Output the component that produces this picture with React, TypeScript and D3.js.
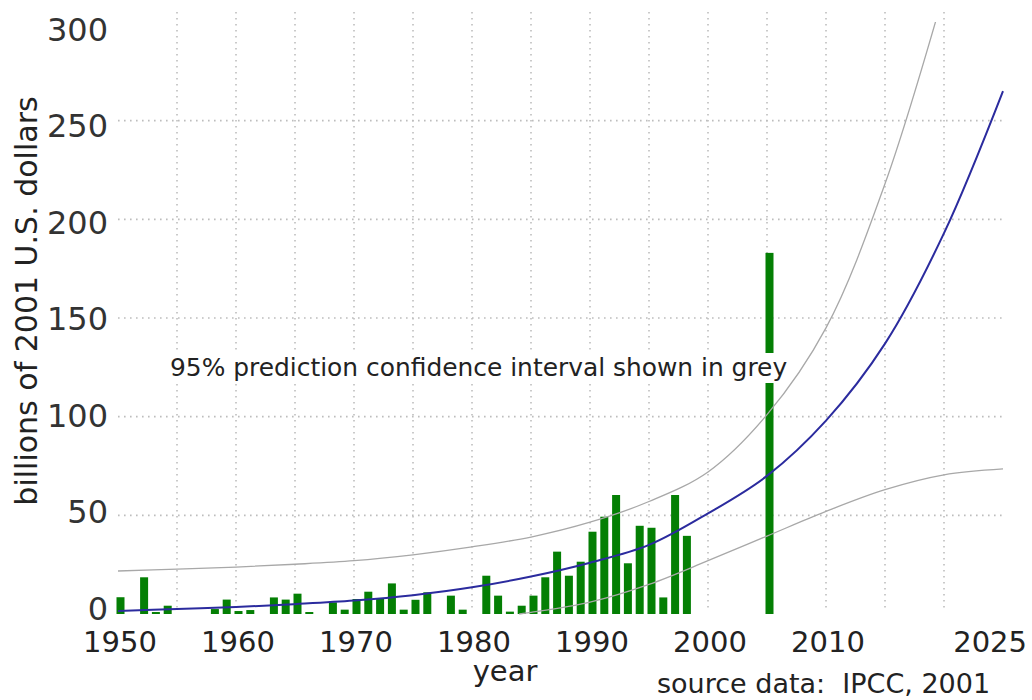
import React from 'react';
import * as d3 from 'd3';

// yearly losses, billions of 2001 US dollars
const barYears = [1950, 1952, 1953, 1954, 1958, 1959, 1960, 1961, 1963, 1964, 1965, 1966,
    1968, 1969, 1970, 1971, 1972, 1973, 1974, 1975, 1976, 1978, 1979, 1981, 1982, 1983,
    1984, 1985, 1986, 1987, 1988, 1989, 1990, 1991, 1992, 1993, 1994, 1995, 1996, 1997,
    1998, 2005];
const barValues = [8.5, 18.6, 1, 4.2, 2.5, 7.3, 1.5, 2, 8.4, 7.3, 10.3, 1,
    5.9, 2.2, 7.6, 11.3, 8, 15.5, 2.2, 7.2, 11, 9.3, 2.2, 19.4, 9.3, 1.2,
    4.2, 9.3, 18.6, 31.6, 19.4, 26.5, 41.7, 49.3, 60.3, 25.7, 44.7, 43.7, 8.4, 60.3,
    39.6, 183];

// fitted trend (blue)
const fitYears = [1950, 1955, 1960, 1965, 1970, 1975, 1980, 1985, 1990, 1995, 2000, 2005, 2010, 2015, 2020, 2025];
const fitValues = [1.5, 2.5, 3.5, 5, 6.8, 9.5, 13.5, 19, 26, 35, 51, 70, 98, 137, 193, 265];

// 95% prediction interval (grey)
const upperYears = [1950, 1955, 1960, 1965, 1970, 1975, 1980, 1985, 1990, 1995, 2000, 2005, 2010, 2015, 2020];
const upperValues = [21.8, 22.7, 23.8, 25.2, 27, 30, 34, 39, 46.5, 57, 72, 101, 145, 218, 315];
const lowerYears = [1984, 1985, 1990, 1995, 2000, 2005, 2010, 2015, 2020, 2025];
const lowerValues = [0, 0.8, 6, 15, 27, 39.5, 52, 63, 70.5, 73.5];

const xTicks = [1950, 1960, 1970, 1980, 1990, 2000, 2010, 2025];
const yTicks = [0, 50, 100, 150, 200, 250, 300];
const gridYears = [1955, 1960, 1965, 1970, 1975, 1980, 1985, 1990, 1995, 2000, 2005, 2010, 2015, 2020];
const gridValues = [50, 100, 150, 200, 250];

const font = '"DejaVu Sans", Verdana, sans-serif';

export default function App() {
    const width = 1032;
    const height = 700;

    const x = d3.scaleLinear().domain([1950, 2025]).range([118, 1003]);
    const y = d3.scaleLinear().domain([0, 300]).range([614, 22]);
    // tick labels sit on a slightly tighter spacing than the grid
    const yLab = d3.scaleLinear().domain([0, 300]).range([608, 29]);

    const line = d3.line<number[]>()
        .x(d => x(d[0]))
        .y(d => y(d[1]))
        .curve(d3.curveCatmullRom.alpha(0.5));

    const fit = line(fitYears.map((t, i) => [t, fitValues[i]]));
    const upper = line(upperYears.map((t, i) => [t, upperValues[i]]));
    const lower = line(lowerYears.map((t, i) => [t, lowerValues[i]]));

    return (
        <svg width={width} height={height}
            style={{ position: 'absolute', left: 0, top: 0, background: '#fff' }}>
            <defs>
                <clipPath id="plot">
                    <rect x={100} y={y(300)} width={920} height={y(0) - y(300) + 2} />
                </clipPath>
            </defs>

            {/* grid */}
            <g stroke="#bdbdbd" strokeWidth={1.6} strokeDasharray="1.6,4.4">
                {gridYears.map(t =>
                    <line key={'v' + t} x1={x(t)} x2={x(t)} y1={12} y2={612} />
                )}
                {gridValues.map(v =>
                    <line key={'h' + v} x1={x(1950)} x2={x(2025)} y1={y(v)} y2={y(v)} />
                )}
            </g>

            {/* bars */}
            <g fill="#047f04">
                {barYears.map((t, i) =>
                    <rect key={t} x={x(t) - 1.5} width={8}
                        y={y(barValues[i])} height={y(0) - y(barValues[i])} />
                )}
            </g>

            {/* note */}
            <rect x={165} y={353} width={620} height={30} fill="#fff" />
            <text x={170} y={376} fontFamily={font} fontSize={24.9} fill="#222">
                95% prediction confidence interval shown in grey
            </text>

            {/* curves */}
            <g clipPath="url(#plot)" fill="none">
                <path d={upper || ''} stroke="#a8a8a8" strokeWidth={1.3} />
                <path d={lower || ''} stroke="#a8a8a8" strokeWidth={1.3} />
                <path d={fit || ''} stroke="#2b2b9e" strokeWidth={2} />
            </g>

            {/* y axis labels */}
            <g fontFamily={font} fontSize={32} fill="#333" textAnchor="end">
                {yTicks.map(v =>
                    <text key={v} x={108} y={yLab(v)} dy="0.36em">{v}</text>
                )}
            </g>

            {/* x axis labels */}
            <g fontFamily={font} fontSize={29} fill="#222">
                {xTicks.map(t => {
                    const last = t === xTicks[xTicks.length - 1];
                    return (
                        <text key={t} x={last ? x(t) + 24 : x(t) + 2} y={652}
                            textAnchor={last ? 'end' : 'middle'}>{t}</text>
                    );
                })}
            </g>

            <text transform="translate(37,301) rotate(-90)" textAnchor="middle"
                fontFamily={font} fontSize={30} fill="#222">
                billions of 2001 U.S. dollars
            </text>
            <text x={505} y={681} textAnchor="middle" fontFamily={font} fontSize={29} fill="#222">
                year
            </text>
            <text x={657} y={693} fontFamily={font} fontSize={27} fill="#222"
                style={{ whiteSpace: 'pre' }}>
                {'source data:  IPCC, 2001'}
            </text>
        </svg>
    );
}
